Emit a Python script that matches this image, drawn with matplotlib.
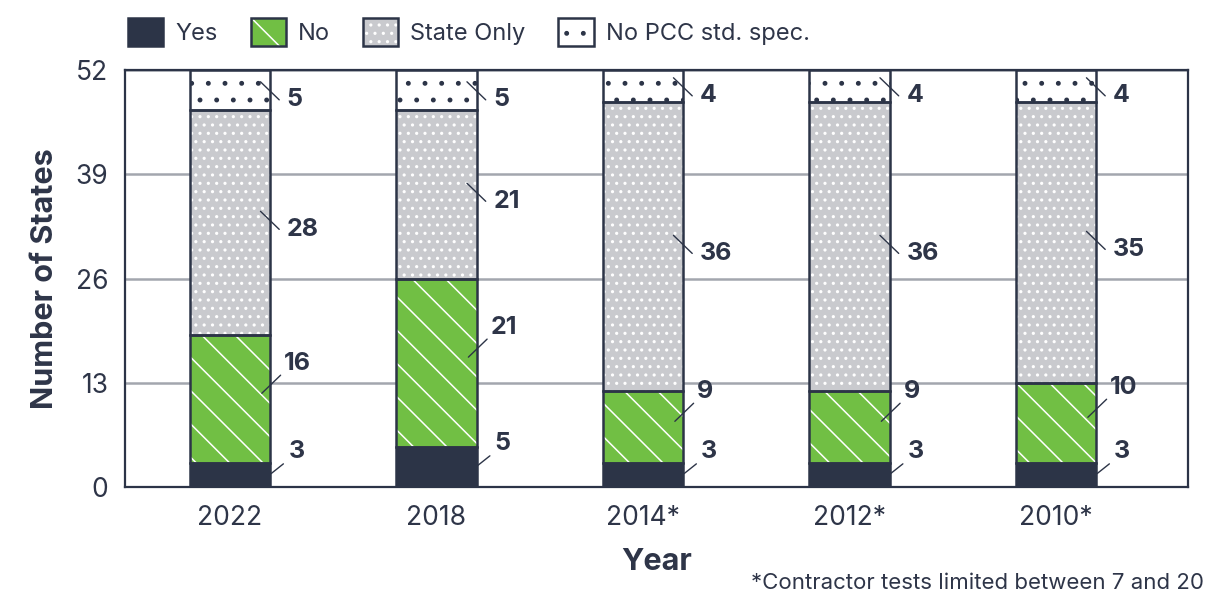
import matplotlib
matplotlib.use("Agg")
import matplotlib.pyplot as plt
from matplotlib.patches import Patch
from matplotlib.transforms import ScaledTranslation
import numpy as np

plt.rcParams["font.family"] = ["Inter", "DejaVu Sans"]
plt.rcParams["hatch.linewidth"] = 1.1

DARK = "#2c3447"
TEXT = "#2e3548"
GREEN = "#71bf44"
GRAY = "#c9cace"
GRID = "#a3a6ae"

years = ["2022", "2018", "2014*", "2012*", "2010*"]
yes = [3, 5, 3, 3, 3]
no = [16, 21, 9, 9, 10]
state_only = [28, 21, 36, 36, 35]
no_pcc = [5, 5, 4, 4, 4]
y_ticks = [0, 13, 26, 39, 52]
series_names = ["Yes", "No", "State Only", "No PCC std. spec."]

# face colour, hatch, hatch colour, leader line start/end and text offset (points)
styles = [
    (DARK, None, DARK, (0.7, 1), (9.5, 8), (13, 12.5)),
    (GREEN, "\\", "white", (-6, 4), (7.5, 17), (10, 21)),
    (GRAY, "..", "white", (-7, 8), (6.5, -5), (12, -5)),
    ("white", ".", DARK, (-7, 6), (6.5, -7), (12, -7)),
]

fig = plt.figure(figsize=(12.08, 5.99), dpi=100)
ax = fig.add_axes([0.1035, 0.187, 0.88, 0.696])

x = np.arange(len(years))
width = 0.39
bottom = np.zeros(len(years))
handles = []

for name, vals, (face, hatch, hcol, start, end, txt) in zip(
        series_names, [yes, no, state_only, no_pcc], styles):
    vals = np.array(vals, dtype=float)
    ax.bar(x, vals, width, bottom=bottom, color=face, edgecolor=hcol,
           linewidth=0, hatch=hatch, zorder=2)
    ax.bar(x, vals, width, bottom=bottom, fill=False, edgecolor=DARK,
           linewidth=1.8, zorder=3)

    start_tr = ax.transData + ScaledTranslation(start[0] / 72, start[1] / 72,
                                                fig.dpi_scale_trans)
    for xi, v, b in zip(x, vals, bottom):
        anchor = (xi + width / 2, b + v / 2)
        # leader line from inside the bar out towards the label
        ax.annotate("", xy=anchor, xycoords=start_tr,
                    xytext=(end[0] - start[0], end[1] - start[1]),
                    textcoords="offset points",
                    arrowprops=dict(arrowstyle="-", color=DARK, lw=1.0,
                                    shrinkA=0, shrinkB=0),
                    zorder=5)
        ax.annotate(f"{int(v)}", xy=anchor, xytext=txt, textcoords="offset points",
                    ha="left", va="center" if txt[1] < 0 else "baseline",
                    fontsize=18, fontweight="bold", color=TEXT, zorder=5)
    bottom = bottom + vals

    hatched = Patch(facecolor=face, edgecolor=hcol, linewidth=0, hatch=hatch)
    outline = Patch(fill=False, edgecolor=DARK, linewidth=1.8)
    handles.append((hatched, outline))

ax.set_xlim(-0.508, 4.64)
ax.set_ylim(0, 52)
ax.set_yticks(y_ticks)
ax.set_xticks(x)
ax.set_xticklabels(years)
ax.tick_params(axis="both", length=0, labelsize=19, labelcolor=TEXT)
ax.tick_params(axis="x", pad=13)
ax.tick_params(axis="y", pad=12)
ax.grid(axis="y", color=GRID, linewidth=1.8, zorder=0)
ax.set_axisbelow(True)
for sp in ax.spines.values():
    sp.set_color(DARK)
    sp.set_linewidth(1.6)

ax.set_xlabel("Year", fontsize=22, fontweight="bold", color=TEXT, labelpad=12)
ax.set_ylabel("Number of States", fontsize=22, fontweight="bold", color=TEXT, labelpad=12)

fig.legend(handles, series_names, loc="center left",
           bbox_to_anchor=(128 / 1208, 1 - 32 / 599), ncol=4, frameon=False,
           handlelength=1.5, handleheight=1.5, handletextpad=0.5,
           columnspacing=1.4, borderpad=0, borderaxespad=0, fontsize=17,
           labelcolor=TEXT)

fig.text(0.997, 1 - 583 / 599, "*Contractor tests limited between 7 and 20",
         ha="right", va="center", fontsize=16, color=TEXT)

fig.savefig("out.png", dpi=100)
